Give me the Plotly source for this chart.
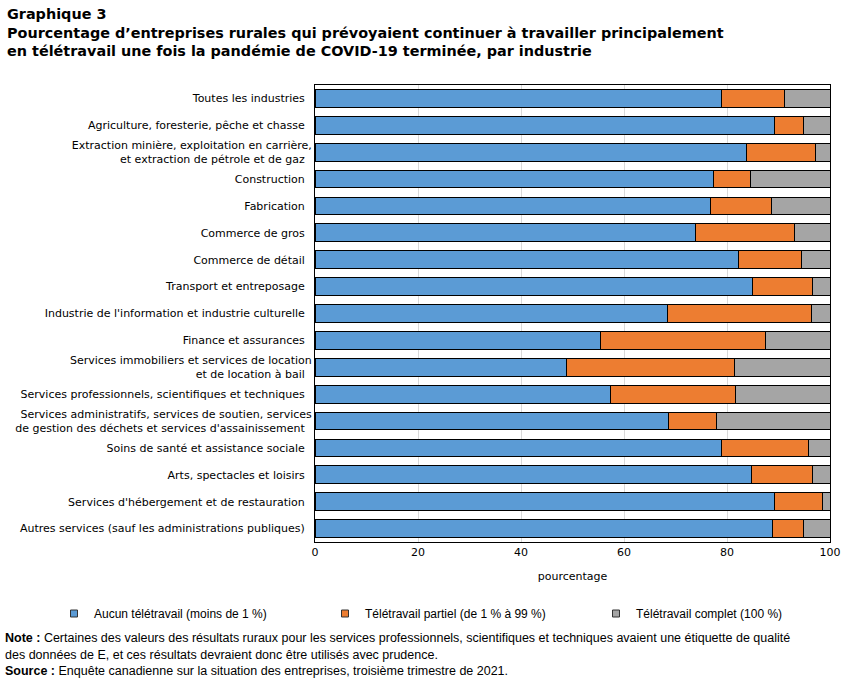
import plotly.graph_objects as go

categories = [
    "Toutes les industries",
    "Agriculture, foresterie, pêche et chasse",
    "Extraction minière, exploitation en carrière,<br>et extraction de pétrole et de gaz",
    "Construction",
    "Fabrication",
    "Commerce de gros",
    "Commerce de détail",
    "Transport et entreposage",
    "Industrie de l'information et industrie culturelle",
    "Finance et assurances",
    "Services immobiliers et services de location<br>et de location à bail",
    "Services professionnels, scientifiques et techniques",
    "Services administratifs, services de soutien, services<br>de gestion des déchets et services d'assainissement",
    "Soins de santé et assistance sociale",
    "Arts, spectacles et loisirs",
    "Services d'hébergement et de restauration",
    "Autres services (sauf les administrations publiques)",
]
aucun = [79.0, 89.3, 83.7, 77.3, 76.7, 73.8, 82.3, 84.9, 68.4, 55.5, 48.9, 57.4, 68.6, 79.0, 84.7, 89.3, 88.9]
partiel = [12.1, 5.5, 13.4, 7.2, 11.9, 19.3, 12.2, 11.7, 28.0, 31.9, 32.5, 24.2, 9.3, 16.9, 11.9, 9.3, 5.9]
complet = [round(100 - a - p, 1) for a, p in zip(aucun, partiel)]

series_names = ["Aucun télétravail (moins de 1 %)", "Télétravail partiel (de 1 % à 99 %)", "Télétravail complet (100 %)"]
series_values = [aucun, partiel, complet]
colors = ["#5B9BD5", "#ED7D31", "#A5A5A5"]
x_ticks = [0, 20, 40, 60, 80, 100]

note_lines = [
    "<b>Note :</b> Certaines des valeurs des résultats ruraux pour les services professionnels, scientifiques et techniques avaient une étiquette de qualité",
    "des données de E, et ces résultats devraient donc être utilisés avec prudence.",
    "<b>Source :</b> Enquête canadienne sur la situation des entreprises, troisième trimestre de 2021.",
]

W, H = 855, 681
ML, MR, MT, MB = 315, 25, 85, 139

def px_x(px):
    return (px - ML) / (W - ML - MR)

def px_y(py):
    return 1 - (py - MT) / (H - MT - MB)

fig = go.Figure()
for name, vals, col in zip(series_names, series_values, colors):
    fig.add_trace(go.Bar(
        y=categories, x=vals, name=name, orientation="h",
        marker=dict(color=col, line=dict(color="#000000", width=1)),
        hoverinfo="x+name", showlegend=False,
    ))
# legend entries with small square symbols
for name, col in zip(series_names, colors):
    fig.add_trace(go.Scatter(
        x=[None], y=[None], mode="markers", name=name,
        marker=dict(symbol="square", size=7, color=col, line=dict(color="#333333", width=1)),
        showlegend=True,
    ))

tick_font = dict(family="DejaVu Sans, Verdana, sans-serif", size=11, color="#000000")
fig.update_layout(
    width=W, height=H,
    margin=dict(l=ML, r=MR, t=MT, b=MB, autoexpand=False),
    barmode="stack", bargap=0.34,
    plot_bgcolor="#ffffff", paper_bgcolor="#ffffff",
    showlegend=True,
    legend=dict(
        orientation="h", xref="paper", yref="paper",
        x=px_x(54), y=px_y(599), xanchor="left", yanchor="top",
        entrywidth=226, entrywidthmode="pixels", itemwidth=30,
        font=dict(family="Liberation Sans, Arial, sans-serif", size=12, color="#000000"),
        traceorder="normal", tracegroupgap=0,
    ),
    xaxis=dict(
        range=[0, 100], tickvals=x_ticks, ticktext=[str(t) for t in x_ticks],
        showgrid=True, gridcolor="#d9d9d9", gridwidth=1,
        showline=True, linecolor="#000000", linewidth=1, mirror=True,
        ticks="", tickfont=tick_font, zeroline=False,
        title=dict(text="pourcentage", font=tick_font, standoff=14),
    ),
    yaxis=dict(
        autorange="reversed", showline=True, linecolor="#000000", linewidth=1, mirror=True,
        ticks="", tickfont=tick_font, showgrid=False, ticksuffix="  ",
    ),
)

title_font = dict(family="DejaVu Sans, Verdana, sans-serif", size=14.4, color="#000000")
fig.add_annotation(
    text="<b>Graphique 3</b><br><b>Pourcentage d’entreprises rurales qui prévoyaient continuer à travailler principalement</b><br><b>en télétravail une fois la pandémie de COVID-19 terminée, par industrie</b>",
    xref="paper", yref="paper", x=px_x(5), y=px_y(4), xanchor="left", yanchor="top",
    align="left", showarrow=False, font=title_font,
)
note_font = dict(family="Liberation Sans, Arial, sans-serif", size=12.5, color="#000000")
for line, ypx in zip(note_lines, [638, 654.5, 671]):
    fig.add_annotation(
        text=line, xref="paper", yref="paper", x=px_x(4), y=px_y(ypx),
        xanchor="left", yanchor="middle", align="left", showarrow=False,
        font=note_font, borderpad=0,
    )

fig.write_html("out.html")
